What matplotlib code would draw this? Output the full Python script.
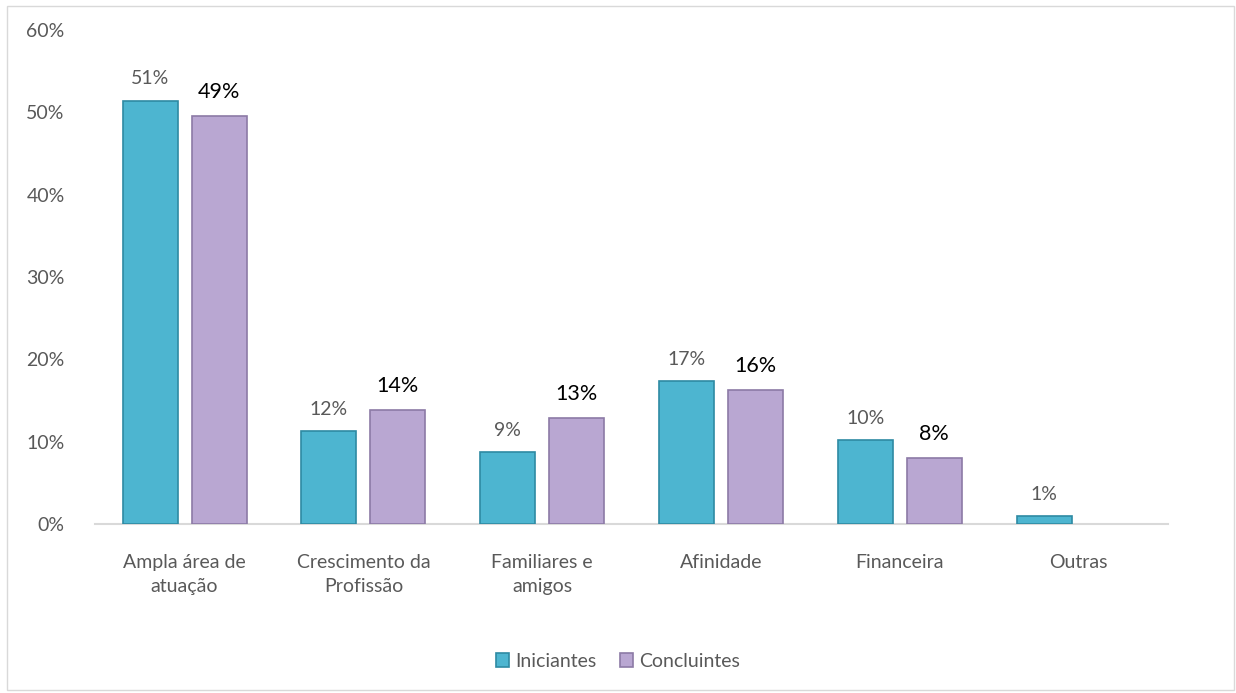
import matplotlib.pyplot as plt
from matplotlib.patches import Rectangle
import numpy as np

plt.rcParams['font.family'] = ['Lato', 'DejaVu Sans']

categorias = ['Ampla área de\natuação', 'Crescimento da\nProfissão', 'Familiares e\namigos',
              'Afinidade', 'Financeira', 'Outras']
iniciantes = [51.4, 11.3, 8.7, 17.3, 10.2, 0.9]
concluintes = [49.5, 13.8, 12.8, 16.3, 8.0, None]
rot_ini = ['51%', '12%', '9%', '17%', '10%', '1%']
rot_con = ['49%', '14%', '13%', '16%', '8%', '']

cor_ini = '#4DB5D0'
cor_con = '#B9A7D2'
borda_ini = '#2E8AA3'
borda_con = '#8C7AA6'

fig = plt.figure(figsize=(12.36, 6.93), dpi=100)
ax = fig.add_axes([0.077, 0.244, 0.868, 0.713])

x = np.arange(len(categorias))
w = 0.307
off = 0.193

v_con = [v if v is not None else 0 for v in concluintes]
ax.bar(x - off, iniciantes, w, color=cor_ini, edgecolor=borda_ini, linewidth=1.2, label='Iniciantes', zorder=3)
b2 = ax.bar(x + off, v_con, w, color=cor_con, edgecolor=borda_con, linewidth=1.2, label='Concluintes', zorder=3)
for i, v in enumerate(concluintes):
    if v is None:
        b2[i].set_visible(False)

for i in range(len(categorias)):
    ax.text(x[i] - off, iniciantes[i] + 1.6, rot_ini[i], ha='center', va='bottom',
            fontsize=14, color='#595959')
    if concluintes[i] is not None:
        ax.text(x[i] + off, concluintes[i] + 1.7, rot_con[i], ha='center', va='bottom',
                fontsize=15.5, color='black')

ax.set_xlim(-0.5, len(categorias) - 0.5)
ax.set_ylim(0, 60)
ax.set_yticks(range(0, 61, 10))
ax.set_yticklabels([f'{t}%' for t in range(0, 61, 10)])
ax.set_xticks(x)
ax.set_xticklabels(categorias, linespacing=1.5)
ax.tick_params(axis='y', length=0, pad=22, labelsize=14, labelcolor='#595959')
ax.tick_params(axis='x', length=0, pad=22, labelsize=14, labelcolor='#595959')
for s in ['top', 'right', 'left']:
    ax.spines[s].set_visible(False)
ax.spines['bottom'].set_color('#D9D9D9')
ax.spines['bottom'].set_linewidth(1.5)

leg = ax.legend(loc='center', bbox_to_anchor=(0.5, 0.046), bbox_transform=fig.transFigure,
                ncol=2, frameon=False, fontsize=14, handlelength=0.7, handleheight=0.7,
                handletextpad=0.3, columnspacing=1.2)
for t in leg.get_texts():
    t.set_color('#595959')

fig.patches.append(Rectangle((0.006, 0.005), 0.992, 0.987, transform=fig.transFigure,
                             fill=False, edgecolor='#D9D9D9', linewidth=1))

fig.savefig('out.png', dpi=100)
